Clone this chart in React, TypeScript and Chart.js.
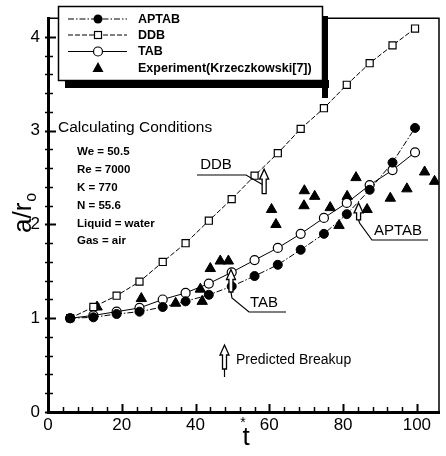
import React, { useEffect, useRef } from 'react';
import { Chart, registerables } from 'chart.js';

Chart.register(...registerables);

// ---- data ----
const tModel = [6, 12.3, 18.6, 24.8, 31.1, 37.3, 43.6, 49.8, 56.0, 62.3, 68.5, 74.8, 81.0, 87.2, 93.4, 99.5];
const aptabY = [1.0, 1.01, 1.045, 1.07, 1.12, 1.18, 1.25, 1.34, 1.45, 1.57, 1.73, 1.9, 2.11, 2.37, 2.66, 3.03];
const ddbY = [1.0, 1.12, 1.24, 1.39, 1.6, 1.8, 2.04, 2.27, 2.52, 2.76, 3.02, 3.24, 3.49, 3.72, 3.91, 4.09];
const tabY = [1.0, 1.03, 1.07, 1.11, 1.2, 1.27, 1.37, 1.49, 1.62, 1.75, 1.9, 2.07, 2.23, 2.42, 2.58, 2.77];
const expT = [13.3, 25.3, 34.6, 41.3, 41.8, 44.0, 46.7, 48.9, 60.6, 61.8, 69.4, 69.5, 72.3, 76.5, 78.9, 81.1, 83.5, 86.5, 92.8, 97.3, 102.1, 104.8];
const expY = [1.12, 1.21, 1.16, 1.31, 1.18, 1.53, 1.61, 1.61, 2.16, 2.0, 2.2, 2.36, 2.3, 2.18, 1.99, 2.3, 2.5, 2.16, 2.28, 2.38, 2.56, 2.46];
const seriesNames = ['APTAB', 'DDB', 'TAB', 'Experiment(Krzeczkowski[7])'];
const xTickLabels = [0, 20, 40, 60, 80, 100];
const yTickLabels = [0, 1, 2, 3, 4];
const conditionTitle = 'Calculating Conditions';
const conditions = ['We = 50.5', 'Re = 7000', 'K = 770', 'N = 55.6', 'Liquid = water', 'Gas = air'];
const noteText = 'Predicted Breakup';

const FAM = '"Liberation Sans", Arial, Helvetica, sans-serif';

const near = (v: number, list: number[]) => list.some((l) => Math.abs(v - l) < 1e-6);

function drawMarker(ctx: CanvasRenderingContext2D, kind: string, x: number, y: number) {
  ctx.save();
  ctx.strokeStyle = '#000';
  ctx.lineWidth = 1.2;
  ctx.setLineDash([]);
  if (kind === 'filledCircle') {
    ctx.beginPath();
    ctx.arc(x, y, 4.5, 0, Math.PI * 2);
    ctx.fillStyle = '#000';
    ctx.fill();
  } else if (kind === 'openCircle') {
    ctx.beginPath();
    ctx.arc(x, y, 4.5, 0, Math.PI * 2);
    ctx.fillStyle = '#fff';
    ctx.fill();
    ctx.stroke();
  } else if (kind === 'square') {
    ctx.fillStyle = '#fff';
    ctx.fillRect(x - 3.5, y - 3.5, 7, 7);
    ctx.strokeRect(x - 3.5, y - 3.5, 7, 7);
  } else if (kind === 'triangle') {
    ctx.beginPath();
    ctx.moveTo(x, y - 6);
    ctx.lineTo(x + 5.5, y + 4);
    ctx.lineTo(x - 5.5, y + 4);
    ctx.closePath();
    ctx.fillStyle = '#000';
    ctx.fill();
  }
  ctx.restore();
}

function upArrow(ctx: CanvasRenderingContext2D, x: number, tipY: number, baseY: number) {
  ctx.save();
  ctx.setLineDash([]);
  ctx.beginPath();
  ctx.moveTo(x, tipY);
  ctx.lineTo(x + 4.5, tipY + 10);
  ctx.lineTo(x + 2, tipY + 10);
  ctx.lineTo(x + 2, baseY);
  ctx.lineTo(x - 2, baseY);
  ctx.lineTo(x - 2, tipY + 10);
  ctx.lineTo(x - 4.5, tipY + 10);
  ctx.closePath();
  ctx.fillStyle = '#fff';
  ctx.fill();
  ctx.strokeStyle = '#000';
  ctx.lineWidth = 1.3;
  ctx.stroke();
  ctx.restore();
}

function poly(ctx: CanvasRenderingContext2D, pts: number[][], w = 1.2) {
  ctx.save();
  ctx.setLineDash([]);
  ctx.strokeStyle = '#000';
  ctx.lineWidth = w;
  ctx.beginPath();
  pts.forEach((p, i) => (i === 0 ? ctx.moveTo(p[0], p[1]) : ctx.lineTo(p[0], p[1])));
  ctx.stroke();
  ctx.restore();
}

function text(ctx: CanvasRenderingContext2D, s: string, x: number, y: number, font: string, align: CanvasTextAlign = 'left', maxW?: number) {
  ctx.save();
  ctx.font = font;
  ctx.textAlign = align;
  ctx.textBaseline = 'middle';
  ctx.fillStyle = '#000';
  if (maxW) ctx.fillText(s, x, y, maxW);
  else ctx.fillText(s, x, y);
  ctx.restore();
}

const overlay = {
  id: 'overlay',
  afterDraw(chart: any) {
    const ctx: CanvasRenderingContext2D = chart.ctx;
    const { left, right, top, bottom } = chart.chartArea;
    const xs = chart.scales.x;
    const ys = chart.scales.y;

    // frame (top and right)
    poly(ctx, [[left, top], [right, top], [right, bottom]], 1.5);

    // inward ticks
    ctx.save();
    ctx.strokeStyle = '#000';
    xs.ticks.forEach((t: any) => {
      const v = t.value;
      if (Math.abs(v / 4 - Math.round(v / 4)) > 1e-6) return;
      const major = Math.abs(v / 20 - Math.round(v / 20)) < 1e-6;
      const px = Math.round(xs.getPixelForValue(v)) + 0.5;
      ctx.lineWidth = major ? 2 : 1.5;
      ctx.beginPath();
      ctx.moveTo(px, bottom + 2);
      ctx.lineTo(px, bottom - (major ? 8 : 5));
      ctx.stroke();
    });
    ys.ticks.forEach((t: any) => {
      const v = t.value;
      if (v > 4.1) return;
      const major = Math.abs(v - Math.round(v)) < 1e-6;
      const py = Math.round(ys.getPixelForValue(v)) + 0.5;
      ctx.lineWidth = major ? 2 : 1.5;
      ctx.beginPath();
      ctx.moveTo(left - 3, py);
      ctx.lineTo(left + (major ? 8 : 5), py);
      ctx.stroke();
    });
    ctx.restore();

    // legend box with drop shadow
    const lx = 58, ly = 6, lw = 264, lh = 74;
    ctx.save();
    ctx.fillStyle = '#000';
    ctx.fillRect(lx + 7, ly + lh, lw, 8);
    ctx.fillRect(lx + lw, ly + 10, 6, lh + 8);
    ctx.fillStyle = '#fff';
    ctx.fillRect(lx, ly, lw, lh);
    ctx.strokeStyle = '#000';
    ctx.lineWidth = 1.5;
    ctx.strokeRect(lx + 0.5, ly + 0.5, lw, lh);
    ctx.restore();

    const rowY = [19, 35, 51.5, 68];
    const markerKinds = ['filledCircle', 'square', 'openCircle', 'triangle'];
    chart.data.datasets.forEach((ds: any, i: number) => {
      const y = rowY[i];
      if (ds.showLine !== false) {
        ctx.save();
        ctx.strokeStyle = '#000';
        ctx.lineWidth = ds.borderWidth;
        ctx.setLineDash(ds.borderDash || []);
        ctx.beginPath();
        ctx.moveTo(68, y);
        ctx.lineTo(127, y);
        ctx.stroke();
        ctx.restore();
      }
      drawMarker(ctx, markerKinds[i], 98, y);
      text(ctx, ds.label, 138, y + 0.5, `bold 12.5px ${FAM}`, 'left', 182);
    });

    // calculating conditions
    text(ctx, conditionTitle, 58, 128, `15.5px ${FAM}`);
    const condY = [152, 170, 188, 206, 223.5, 241];
    conditions.forEach((c, i) => text(ctx, c, 77, condY[i], `bold 11.5px ${FAM}`));

    // DDB annotation
    text(ctx, 'DDB', 216, 165, `15px ${FAM}`, 'center');
    poly(ctx, [[197, 175], [246, 175], [265, 186]]);
    upArrow(ctx, xs.getPixelForValue(58.6), ys.getPixelForValue(2.59), ys.getPixelForValue(2.33));

    // TAB annotation
    const tabX = xs.getPixelForValue(49.6);
    upArrow(ctx, tabX, ys.getPixelForValue(1.52), ys.getPixelForValue(1.28));
    poly(ctx, [[tabX, ys.getPixelForValue(1.28)], [tabX + 1, 298], [249, 312], [286, 312]]);
    text(ctx, 'TAB', 264, 303, `15px ${FAM}`, 'center');

    // APTAB annotation
    const apX = xs.getPixelForValue(84.2);
    upArrow(ctx, apX, ys.getPixelForValue(2.23), ys.getPixelForValue(2.05));
    poly(ctx, [[apX, ys.getPixelForValue(2.05)], [apX + 1, 223], [372, 240], [428, 240]]);
    text(ctx, 'APTAB', 398, 231, `15px ${FAM}`, 'center');

    // predicted breakup note
    upArrow(ctx, 224.5, 345, 369);
    poly(ctx, [[224.5, 369], [224.5, 377]]);
    text(ctx, noteText, 236, 360, `14px ${FAM}`);

    // axis titles
    ctx.save();
    ctx.translate(31, 233);
    ctx.rotate(-Math.PI / 2);
    ctx.fillStyle = '#000';
    ctx.textBaseline = 'alphabetic';
    ctx.textAlign = 'left';
    ctx.font = `26px ${FAM}`;
    ctx.fillText('a/r', 0, 0);
    const w = ctx.measureText('a/r').width;
    ctx.font = `16px ${FAM}`;
    ctx.fillText('o', w + 1, 5);
    ctx.restore();

    text(ctx, 't', 246, 438, `26px ${FAM}`, 'center');
    text(ctx, '*', 243, 423, `14px ${FAM}`, 'center');
  },
};

export default function App() {
  const ref = useRef<HTMLCanvasElement | null>(null);

  useEffect(() => {
    if (!ref.current) return;
    const mk = (ys: number[]) => tModel.map((t, i) => ({ x: t, y: ys[i] }));
    const chart = new Chart(ref.current, {
      type: 'line',
      data: {
        datasets: [
          {
            label: seriesNames[0],
            data: mk(aptabY),
            borderColor: '#000',
            borderWidth: 1,
            borderDash: [6, 2, 1.5, 2],
            pointStyle: 'circle',
            pointRadius: 4.5,
            pointBackgroundColor: '#000',
            pointBorderColor: '#000',
            pointBorderWidth: 1,
            tension: 0,
            fill: false,
          },
          {
            label: seriesNames[1],
            data: mk(ddbY),
            borderColor: '#000',
            borderWidth: 1,
            borderDash: [5, 2],
            pointStyle: 'rect',
            pointRadius: 5,
            pointBackgroundColor: '#fff',
            pointBorderColor: '#000',
            pointBorderWidth: 1.2,
            tension: 0,
            fill: false,
          },
          {
            label: seriesNames[2],
            data: mk(tabY),
            borderColor: '#000',
            borderWidth: 1,
            borderDash: [],
            pointStyle: 'circle',
            pointRadius: 4.5,
            pointBackgroundColor: '#fff',
            pointBorderColor: '#000',
            pointBorderWidth: 1.2,
            tension: 0,
            fill: false,
          },
          {
            label: seriesNames[3],
            data: expT.map((t, i) => ({ x: t, y: expY[i] })),
            showLine: false,
            borderColor: '#000',
            borderWidth: 0,
            pointStyle: 'triangle',
            pointRadius: 6,
            pointBackgroundColor: '#000',
            pointBorderColor: '#000',
            pointBorderWidth: 1,
          },
        ],
      },
      options: {
        responsive: false,
        animation: false,
        events: [],
        layout: { padding: { top: 4, right: 3, left: 0, bottom: 0 } },
        plugins: { legend: { display: false }, tooltip: { enabled: false }, title: { display: false } },
        scales: {
          x: {
            type: 'linear',
            min: 0,
            max: 106,
            afterFit: (s: any) => {
              s.height = 44;
            },
            ticks: {
              stepSize: 4,
              autoSkip: false,
              maxRotation: 0,
              padding: 3,
              color: '#000',
              font: { family: FAM, size: 17 },
              callback: (v: any) => (near(Number(v), xTickLabels) ? String(Math.round(Number(v))) : ''),
            },
            grid: { drawOnChartArea: false, drawTicks: false },
            border: { display: true, width: 3, color: '#000' },
          },
          y: {
            type: 'linear',
            min: 0,
            max: 4.2,
            afterFit: (s: any) => {
              s.width = 48;
            },
            ticks: {
              stepSize: 0.2,
              autoSkip: false,
              padding: 8,
              color: '#000',
              font: { family: FAM, size: 17 },
              callback: (v: any) => (near(Number(v), yTickLabels) ? String(Math.round(Number(v))) : ''),
            },
            grid: { drawOnChartArea: false, drawTicks: false },
            border: { display: true, width: 3, color: '#000' },
          },
        },
      },
      plugins: [overlay],
    } as any);
    return () => chart.destroy();
  }, []);

  return (
    <div style={{ position: 'absolute', left: 0, top: 0, width: 446, height: 456, background: '#fff' }}>
      <canvas ref={ref} width={446} height={456} style={{ display: 'block', width: 446, height: 456 }} />
    </div>
  );
}
